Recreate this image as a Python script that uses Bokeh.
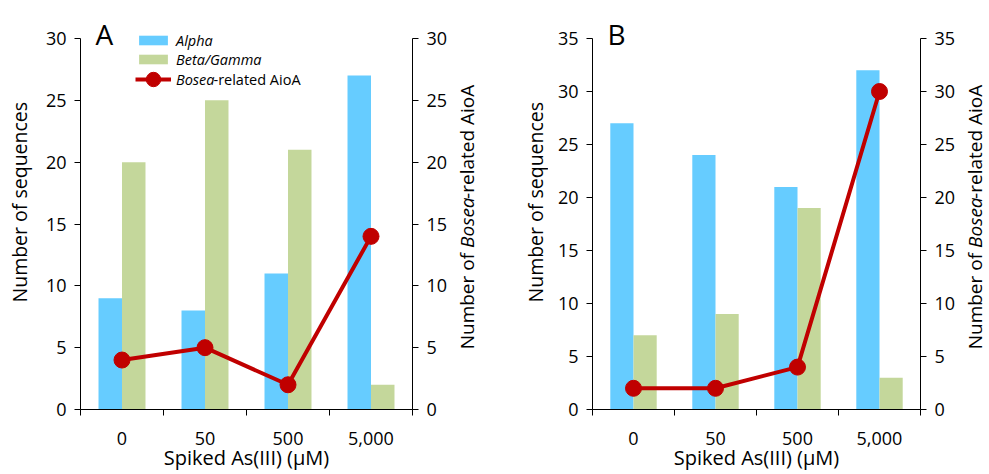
import numpy as np
from bokeh.plotting import figure
from bokeh.layouts import row
from bokeh.models import (Range1d, LinearAxis, FixedTicker, Legend, LegendItem,
                          Label, ColumnDataSource)
from bokeh.transform import dodge
from bokeh.embed import file_html
from bokeh.resources import INLINE

# ---------------- data ----------------
categories = ["0", "50", "500", "5,000"]
a_alpha = [9, 8, 11, 27]
a_betagamma = [20, 25, 21, 2]
a_bosea = [4, 5, 2, 14]
b_alpha = [27, 24, 21, 32]
b_betagamma = [7, 9, 19, 3]
b_bosea = [2, 2, 4, 30]
a_yticks = [0, 5, 10, 15, 20, 25, 30]
b_yticks = [0, 5, 10, 15, 20, 25, 30, 35]
x_title = "Spiked As(III) (µM)"
y_title = "Number of sequences"
legend_labels = ["Alpha", "Beta/Gamma", "Bosea", "-related AioA"]
right_title_parts = [("Number of ", "normal"), ("Bosea", "italic"), ("-related AioA", "normal")]

# ---------------- style / layout ----------------
FONT = "Open Sans"
BLUE = "#66CCFF"
GREEN = "#C4D79B"
RED = "#C00000"
H = 474
TOP = 8          # frame top (page px)
AXIS_TOP = 38    # page px where the top tick sits
FRAME_BOTTOM = 409
BOTTOM = H - FRAME_BOTTOM
BW = 0.283
RIGHT_PART_W = [101.4, 49.0, 114.2]
LEFT_TITLE_W = [200.0]
LEG_FS = 14.5
ITALIC_EM = 2.55


def style_axis(ax):
    ax.major_label_text_font = FONT
    ax.major_label_text_font_size = "18px"
    ax.major_label_text_color = "black"
    ax.axis_line_color = "black"
    ax.major_tick_line_color = "black"
    ax.minor_tick_line_color = "black"
    ax.axis_label_text_font = FONT
    ax.axis_label_text_font_size = "20px"
    ax.axis_label_text_font_style = "normal"
    ax.axis_label_text_color = "black"


def title_strip(width, cx, cy, parts, widths, fs):
    # frames in a row are aligned, so screen y is measured from FRAME_BOTTOM
    s = figure(width=width, height=H, x_range=Range1d(0, 1), y_range=Range1d(0, 1),
               output_backend="svg", toolbar_location=None, title=None,
               x_axis_type=None, y_axis_type=None, min_border=0)
    s.outline_line_color = None
    s.border_fill_color = "white"
    s.background_fill_color = "white"
    y0 = (FRAME_BOTTOM - cy) - sum(widths) / 2
    for (txt, st), w in zip(parts, widths):
        s.add_layout(Label(x=cx, y=y0, x_units="screen", y_units="screen", text=txt,
                           angle=np.pi / 2, text_font=FONT, text_font_size=fs,
                           text_font_style=st, text_color="black",
                           text_align="left", text_baseline="middle"))
        y0 += w
    return s


def panel(letter, alpha, bg, bosea, ymax, yticks, width, left, right, with_legend):
    n = len(categories)
    src = ColumnDataSource(dict(x=np.arange(n) + 0.5, alpha=alpha, bg=bg, bosea=bosea))
    ytop = ymax + ymax * (AXIS_TOP - TOP) / (FRAME_BOTTOM - AXIS_TOP)
    p = figure(width=width, height=H, x_range=Range1d(0, n), y_range=Range1d(0, ytop),
               output_backend="svg", toolbar_location=None, title=None,
               min_border_left=left, min_border_right=right,
               min_border_top=TOP, min_border_bottom=BOTTOM)
    p.extra_y_ranges = {"right": Range1d(0, ytop)}
    p.outline_line_color = None
    p.xgrid.visible = False
    p.ygrid.visible = False
    p.background_fill_color = "white"
    p.border_fill_color = "white"

    # x axis
    xa = p.xaxis[0]
    style_axis(xa)
    xa.ticker = FixedTicker(ticks=list(np.arange(n) + 0.5), minor_ticks=list(range(n + 1)))
    xa.major_label_overrides = {float(i + 0.5): c for i, c in enumerate(categories)}
    xa.major_tick_out = 0
    xa.major_tick_in = 0
    xa.minor_tick_out = 6
    xa.minor_tick_in = 0
    xa.major_label_standoff = 16
    xa.axis_label = x_title
    xa.axis_label_standoff = -4

    # left axis
    ya = p.yaxis[0]
    style_axis(ya)
    ya.bounds = (0, ymax)
    ya.ticker = FixedTicker(ticks=yticks)
    ya.major_tick_out = 6
    ya.major_tick_in = 0
    ya.minor_tick_out = 0
    ya.minor_tick_in = 0
    ya.major_label_standoff = 8

    # right axis
    ra = LinearAxis(y_range_name="right", ticker=FixedTicker(ticks=yticks), bounds=(0, ymax))
    style_axis(ra)
    ra.major_tick_out = 6
    ra.major_tick_in = 0
    ra.minor_tick_out = 0
    ra.minor_tick_in = 0
    ra.major_label_standoff = 8
    p.add_layout(ra, "right")

    r_a = p.vbar(x=dodge("x", -BW / 2), top="alpha", width=BW, source=src,
                 fill_color=BLUE, line_color=None)
    r_b = p.vbar(x=dodge("x", BW / 2), top="bg", width=BW, source=src,
                 fill_color=GREEN, line_color=None)
    r_l = p.line("x", "bosea", source=src, y_range_name="right", line_color=RED, line_width=4)
    r_s = p.scatter("x", "bosea", source=src, y_range_name="right", size=16,
                    fill_color=RED, line_color=RED)

    # panel letter
    p.add_layout(Label(x=15, y=FRAME_BOTTOM - 33, x_units="screen", y_units="screen", text=letter,
                       text_font=FONT, text_font_size="28px", text_color="black",
                       text_align="left", text_baseline="alphabetic"))

    if with_legend:
        common = dict(padding=0, margin=0, label_standoff=5, spacing=0,
                      border_line_color=None, background_fill_alpha=0,
                      label_text_font=FONT, label_text_font_size=f"{LEG_FS}px",
                      label_text_font_style="italic", label_text_color="black")
        leg1 = Legend(items=[LegendItem(label=legend_labels[0], renderers=[r_a]),
                             LegendItem(label=legend_labels[1], renderers=[r_b])],
                      location=(55, FRAME_BOTTOM - 68.5), glyph_width=36, glyph_height=12,
                      label_height=18, **common)
        leg2 = Legend(items=[LegendItem(label=legend_labels[2], renderers=[r_l, r_s])],
                      location=(55, FRAME_BOTTOM - 97), glyph_width=36, glyph_height=36,
                      label_height=18, **common)
        p.add_layout(leg1)
        p.add_layout(leg2)
        p.add_layout(Label(x=55 + 36 + 5 + ITALIC_EM * LEG_FS, y=FRAME_BOTTOM - 79,
                           x_units="screen", y_units="screen",
                           text=legend_labels[3], text_font=FONT, text_font_size=f"{LEG_FS}px",
                           text_color="black", text_align="left", text_baseline="middle"))
    return p


LA = title_strip(40, 19, 202, [(y_title, "normal")], LEFT_TITLE_W, "19.5px")
pA = panel("A", a_alpha, a_betagamma, a_bosea, 30, a_yticks, 412, 40, 40, True)
RA = title_strip(48, 14, 216.5, right_title_parts, RIGHT_PART_W, "19px")
LB = title_strip(48, 35, 202, [(y_title, "normal")], LEFT_TITLE_W, "19.5px")
pB = panel("B", b_alpha, b_betagamma, b_bosea, 35, b_yticks, 410, 44, 36, False)
RB = title_strip(31, 16, 216.5, right_title_parts, RIGHT_PART_W, "19px")

layout = row(LA, pA, RA, LB, pB, RB)
open("out.html", "w").write(file_html(layout, INLINE))
